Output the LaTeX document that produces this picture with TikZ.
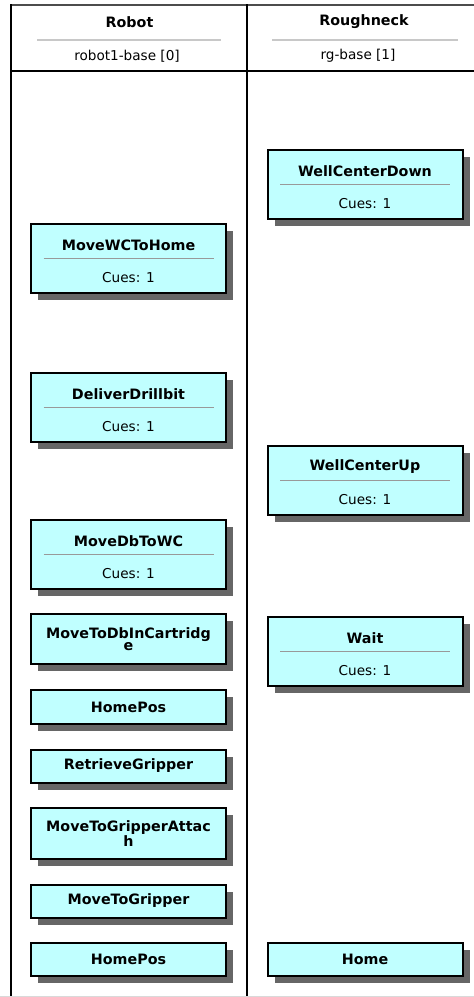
\documentclass[tikz,border=0pt]{standalone}
\usepackage{fontspec}
\setmainfont{DejaVu Sans}
\usetikzlibrary{shadows}
\definecolor{boxcyan}{HTML}{C0FFFF}
\definecolor{shadowgray}{HTML}{666666}
\definecolor{sepgray}{HTML}{999999}
\definecolor{hdrgray}{HTML}{C8C8C8}
\tikzset{
  taskbox/.style={draw=black, line width=2pt, fill=boxcyan, minimum width=195pt, inner sep=0pt, align=center,
    font=\fontsize{14.3}{12.5}\selectfont\bfseries,
    drop shadow={shadow xshift=7pt, shadow yshift=-7pt, fill=shadowgray, opacity=1}},
  ttl/.style={inner sep=0pt, font=\fontsize{14.3}{13}\selectfont\bfseries},
  cue/.style={inner sep=0pt, font=\fontsize{13.6}{13}\selectfont},
  sepline/.style={draw=sepgray, line width=1pt},
  hdrsep/.style={draw=hdrgray, line width=2pt},
  grid/.style={draw=black, line width=2pt},
}
\newcommand\cuetask[4]{%
  \node[taskbox, minimum height=69pt] (#1) at (#2,#3+35.5) {};
  \node[ttl] (#1-t) at (#2,#3+22) {#4};
  \draw[sepline] (#2-85,#3+35.5) -- (#2+85,#3+35.5);
  \node[cue] (#1-c) at (#2,#3+55) {Cues: 1};
}
\newcommand\plaintask[5]{% name, x, center y, height, text
  \node[taskbox, minimum height=#4] (#1) at (#2,#3) {#5};
}
\begin{document}
\begin{tikzpicture}[x=1pt,y=-1pt]
\useasboundingbox (0,0) rectangle (474,997);
% grid
\draw[draw=black!70, line width=2pt] (10,5) -- (474,5);
\draw[grid] (11,4) -- (11,997);
\draw[grid] (247,4) -- (247,997);
\draw[grid] (10,71) -- (474,71);
\draw[draw=black!15, line width=1pt] (0,996) -- (474,996);
% header
\node[ttl] (hr) at (129.5,22) {Robot};
\node[ttl] (hg) at (364,22) {Roughneck};
\draw[hdrsep] (37,40) -- (221,40);
\draw[hdrsep] (272,40) -- (458,40);
\node[cue] (hr2) at (127,56) {robot1-base [0]};
\node[cue] (hg2) at (358,56) {rg-base [1]};
% robot column
\cuetask{mwc}{128.5}{223}{MoveWCToHome}
\cuetask{ddb}{128.5}{372}{DeliverDrillbit}
\cuetask{mdb}{128.5}{519}{MoveDbToWC}
\plaintask{mtd}{128.5}{639}{50pt}{MoveToDbInCartridg\\e}
\plaintask{hp1}{128.5}{707}{34pt}{HomePos}
\plaintask{rg}{128.5}{766}{33pt}{RetrieveGripper}
\plaintask{mtga}{128.5}{833.5}{51pt}{MoveToGripperAttac\\h}
\plaintask{mtg}{128.5}{901}{33pt}{MoveToGripper}
\plaintask{hp2}{128.5}{959.5}{33pt}{HomePos}
% roughneck column
\cuetask{wcd}{365}{149}{WellCenterDown}
\cuetask{wcu}{365}{445}{WellCenterUp}
\cuetask{wt}{365}{616}{Wait}
\plaintask{hm}{365}{959.5}{33pt}{Home}
\end{tikzpicture}
\end{document}
